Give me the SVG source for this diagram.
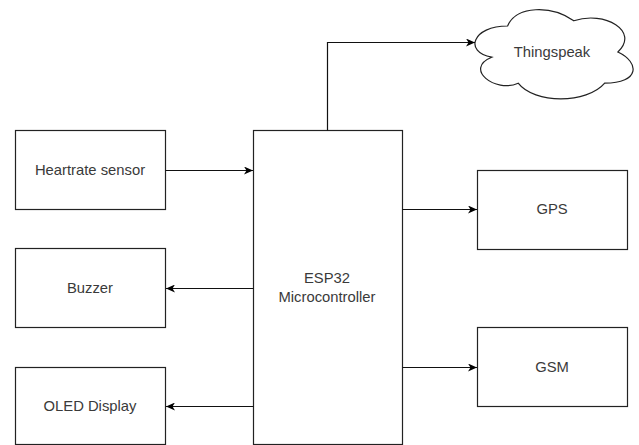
<svg xmlns="http://www.w3.org/2000/svg" width="639" height="445" viewBox="0 0 639 445">
<style>
.box{fill:#fff;stroke:#222;stroke-width:1.2}
.lbl{font-family:"Liberation Sans",Arial,sans-serif;font-size:14.8px;fill:#3a3a3a;text-anchor:middle;dominant-baseline:central}
.edge{fill:none;stroke:#111;stroke-width:1.2}
</style>
<defs>
<marker id="arr" viewBox="0 0 10 8" refX="9" refY="4" markerWidth="10" markerHeight="8" markerUnits="userSpaceOnUse" orient="auto">
<path d="M0,0 L9,4 L0,8 L2.5,4 Z" fill="#000"/>
</marker>
</defs>
<rect width="639" height="445" fill="#fff"/>
<g id="heartrate"><rect class="box" x="15.5" y="130.5" width="150" height="79"/><text class="lbl" x="90" y="170">Heartrate sensor</text></g>
<g id="buzzer"><rect class="box" x="15.5" y="248.5" width="150" height="79"/><text class="lbl" x="90" y="288">Buzzer</text></g>
<g id="oled"><rect class="box" x="15.5" y="367.5" width="150" height="77"/><text class="lbl" x="90" y="406">OLED Display</text></g>
<g id="esp32"><rect class="box" x="253.5" y="130.5" width="149" height="314"/><text class="lbl" x="327" y="278">ESP32</text><text class="lbl" x="327" y="297">Microcontroller</text></g>
<g id="gps"><rect class="box" x="477.5" y="170.5" width="150" height="79"/><text class="lbl" x="552" y="209">GPS</text></g>
<g id="gsm"><rect class="box" x="477.5" y="327.5" width="150" height="79"/><text class="lbl" x="552" y="367">GSM</text></g>
<g id="thingspeak"><path class="box" d="M507.6 26 C472.3 26 463.5 52 491.7 57.2 C463.5 68.6 495.3 93.6 518.2 83.2 C534.1 104 587.1 104 604.7 83.2 C640 83.2 640 62.4 617.9 52 C640 31.2 604.7 10.4 573.8 20.8 C551.75 5.2 516.5 5.2 507.6 26 Z"/><text class="lbl" x="552" y="52">Thingspeak</text></g>
<g id="connectors">
<path class="edge" d="M165.5 170.5 H253" marker-end="url(#arr)"/>
<path class="edge" d="M253.5 288.5 H166" marker-end="url(#arr)"/>
<path class="edge" d="M253.5 406.5 H166" marker-end="url(#arr)"/>
<path class="edge" d="M327.5 130.5 V42.5 H475" marker-end="url(#arr)"/>
<path class="edge" d="M402.5 209.5 H477" marker-end="url(#arr)"/>
<path class="edge" d="M402.5 367.5 H477" marker-end="url(#arr)"/>
</g>
</svg>
